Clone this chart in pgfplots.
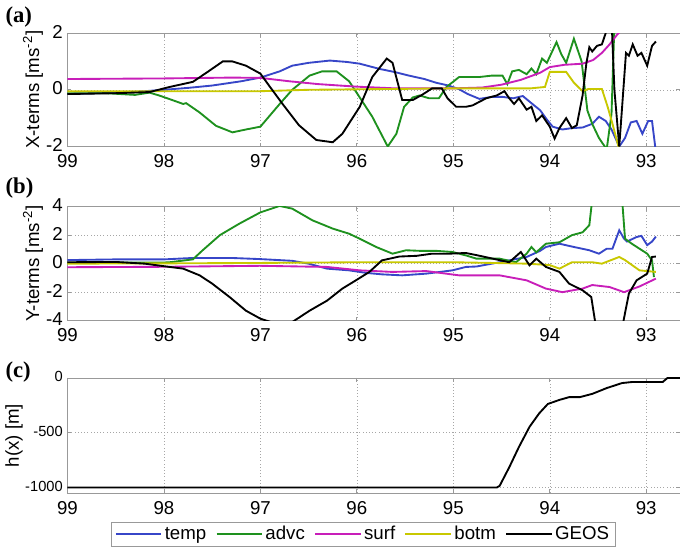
\documentclass[border=0pt]{standalone}
\usepackage{pgfplots}
\pgfplotsset{compat=1.18}
\usepackage{fontspec}
\setmainfont{Liberation Sans}
\newfontfamily\serifb{Liberation Serif}
\definecolor{cblue}{RGB}{55,70,200}
\definecolor{cgreen}{RGB}{30,145,30}
\definecolor{cmag}{RGB}{200,30,185}
\definecolor{cyel}{RGB}{200,200,0}
\pgfplotsset{
  base/.style={
    scale only axis, width=459.4pt, anchor=south west,
    x dir=reverse, xmin=92.65, xmax=99,
    xtick={93,94,95,96,97,98,99},
    axis line style={gray!80},
    tick style={gray!80, line width=0.6pt},
    tick align=inside, major tick length=3pt,
    xmajorgrids, ymajorgrids,
    grid style={dotted, gray!70},
    tick label style={font=\fontsize{14}{16}\selectfont},
    xticklabel style={yshift=-2.5pt},
    yticklabel style={yshift=1pt},
    label style={font=\fontsize{14}{16}\selectfont},
    /pgf/number format/assume math mode=true,
    /pgf/number format/1000 sep={},
    every axis plot/.append style={line width=1.4pt},
    clip=true,
  }
}
\begin{document}
\begin{tikzpicture}
\path[use as bounding box] (0,0) rectangle (510pt,414pt);
\node[anchor=west, inner sep=0pt] at (4pt,401pt) {\serifb\bfseries\fontsize{17}{19}\selectfont (a)};
\node[anchor=west, inner sep=0pt] at (4pt,273pt) {\serifb\bfseries\fontsize{17}{19}\selectfont (b)};
\node[anchor=west, inner sep=0pt] at (4pt,135pt) {\serifb\bfseries\fontsize{17}{19}\selectfont (c)};
% Panel a
\begin{axis}[base, at={(50.6pt,304.1pt)}, height=85.1pt,
  ymin=-2, ymax=2, ytick={-2,0,2},
  ylabel={X-terms [ms\textsuperscript{-2}]},
  ylabel style={at={(rel axis cs:-0.0563,0.5)}, anchor=center, rotate=0}]
\addplot[cblue] coordinates {(99,-0.15)(98.5,-0.1)(98.2,-0.05)(98.0,0.0)(97.74,0.07)(97.5,0.15)(97.2,0.3)(97.0,0.43)(96.8,0.65)(96.67,0.85)(96.5,0.95)(96.28,1.03)(96.1,0.98)(95.97,0.92)(95.77,0.74)(95.6,0.62)(95.46,0.5)(95.3,0.38)(95.18,0.25)(95.05,0.15)(94.94,0.02)(94.85,-0.15)(94.73,-0.32)(94.6,-0.25)(94.49,-0.25)(94.38,-0.3)(94.28,-0.22)(94.18,-0.5)(94.1,-0.72)(94.03,-1.05)(93.97,-1.3)(93.87,-1.4)(93.77,-1.35)(93.66,-1.33)(93.56,-1.2)(93.49,-0.95)(93.42,-1.1)(93.36,-1.4)(93.28,-2.0)(93.22,-1.7)(93.16,-1.15)(93.1,-1.1)(93.04,-1.55)(92.98,-1.1)(92.94,-1.1)(92.9,-2.2)};
\addplot[cgreen] coordinates {(99,-0.12)(98.6,-0.12)(98.3,-0.18)(98.15,-0.1)(98.05,-0.2)(97.94,-0.33)(97.8,-0.5)(97.77,-0.47)(97.63,-0.8)(97.46,-1.27)(97.29,-1.5)(97.15,-1.4)(97.0,-1.3)(96.9,-0.9)(96.8,-0.5)(96.67,0.0)(96.49,0.5)(96.36,0.65)(96.21,0.65)(96.08,0.3)(95.97,-0.27)(95.84,-0.95)(95.68,-2.0)(95.59,-1.55)(95.51,-0.6)(95.42,-0.27)(95.35,-0.2)(95.25,-0.3)(95.15,-0.3)(95.07,0.1)(94.94,0.45)(94.73,0.45)(94.6,0.5)(94.49,0.5)(94.44,0.2)(94.39,0.65)(94.32,0.7)(94.24,0.55)(94.19,0.75)(94.14,0.55)(94.08,1.1)(94.03,0.95)(93.93,1.68)(93.88,1.25)(93.83,0.95)(93.75,1.8)(93.67,1.0)(93.61,-0.73)(93.56,-1.2)(93.49,-1.7)(93.41,-2.1)(93.36,-0.85)(93.33,2.3)(93.3,3)};
\addplot[cmag] coordinates {(99,0.38)(98,0.4)(97.3,0.43)(97.0,0.42)(96.7,0.3)(96.4,0.2)(96.0,0.11)(95.6,0.05)(95.0,0.05)(94.7,0.08)(94.5,0.18)(94.3,0.35)(94.1,0.6)(94.0,0.8)(93.85,0.88)(93.66,0.92)(93.55,1.05)(93.46,1.3)(93.38,1.6)(93.3,1.95)(93.2,2.3)};
\addplot[cyel] coordinates {(99,-0.05)(97,-0.05)(96.5,0.0)(95.0,0.05)(94.2,0.05)(94.05,0.1)(94.0,0.63)(93.83,0.63)(93.75,0.25)(93.66,-0.05)(93.6,0.03)(93.46,0.03)(93.4,-0.6)(93.35,-1.2)(93.28,-2.1)};
\addplot[black] coordinates {(99,-0.15)(98.5,-0.12)(98.15,-0.08)(97.94,0.1)(97.7,0.28)(97.56,0.6)(97.39,1.0)(97.29,1.0)(97.15,0.85)(97.0,0.57)(96.9,0.1)(96.77,-0.5)(96.6,-1.25)(96.42,-1.77)(96.25,-1.85)(96.15,-1.55)(95.97,-0.6)(95.84,0.45)(95.69,1.1)(95.63,0.95)(95.53,-0.36)(95.42,-0.36)(95.32,-0.17)(95.22,0.05)(95.12,0.05)(95.06,-0.3)(94.97,-0.6)(94.87,-0.6)(94.8,-0.55)(94.66,-0.3)(94.55,-0.2)(94.47,-0.05)(94.42,-0.3)(94.37,-0.5)(94.32,-0.3)(94.24,-0.7)(94.19,-0.6)(94.14,-1.1)(94.08,-0.9)(94.0,-1.3)(93.95,-1.72)(93.9,-1.35)(93.83,-1.0)(93.77,-1.35)(93.72,-1.25)(93.66,-0.2)(93.62,0.95)(93.59,1.5)(93.56,1.35)(93.51,1.55)(93.46,1.6)(93.41,2.1)(93.36,2.5)(93.33,0.0)(93.28,-2.0)(93.25,-0.6)(93.21,1.3)(93.18,1.2)(93.14,1.6)(93.09,1.2)(93.05,1.3)(92.99,0.85)(92.94,1.55)(92.9,1.7)};
\end{axis}
% Panel b
\begin{axis}[base, at={(50.6pt,173.5pt)}, height=85.5pt,
  ymin=-4, ymax=4, ytick={-4,-2,0,2,4},
  ylabel={Y-terms [ms\textsuperscript{-2}]},
  ylabel style={at={(rel axis cs:-0.0563,0.5)}, anchor=center, rotate=0}]
\addplot[cblue] coordinates {(99,0.25)(98.5,0.3)(98.0,0.3)(97.7,0.4)(97.3,0.4)(97.0,0.32)(96.67,0.2)(96.5,0.0)(96.31,-0.35)(96.08,-0.47)(95.9,-0.65)(95.74,-0.75)(95.53,-0.82)(95.28,-0.7)(95.01,-0.47)(94.87,-0.23)(94.76,-0.2)(94.52,0.1)(94.24,0.47)(94.1,0.9)(94.04,1.17)(93.9,1.4)(93.77,1.2)(93.59,0.94)(93.49,0.7)(93.41,1.05)(93.35,1.05)(93.28,2.34)(93.23,1.75)(93.2,1.55)(93.1,1.87)(93.05,1.95)(92.99,1.3)(92.94,1.55)(92.9,1.9)};
\addplot[cgreen] coordinates {(99,0.05)(98.5,0.08)(98.0,0.08)(97.94,0.1)(97.7,0.3)(97.6,0.93)(97.42,2.0)(97.22,2.8)(97.0,3.6)(96.8,4.05)(96.67,3.86)(96.46,3.04)(96.25,2.46)(96.08,2.1)(95.97,1.75)(95.8,1.17)(95.63,0.7)(95.49,0.94)(95.35,0.9)(95.18,0.9)(95.01,0.82)(94.87,0.58)(94.76,0.35)(94.52,0.35)(94.35,0.1)(94.24,0.7)(94.19,1.17)(94.14,0.8)(94.04,1.4)(93.9,1.5)(93.77,2.0)(93.66,2.2)(93.59,2.7)(93.56,4.5)(93.5,6)(93.3,6)(93.25,4.5)(93.22,1.75)(93.15,1.4)(92.99,0.7)(92.94,0.23)(92.92,-0.94)};
\addplot[cmag] coordinates {(99,-0.25)(98,-0.22)(97,-0.15)(96.31,-0.23)(95.97,-0.47)(95.63,-0.58)(95.28,-0.52)(94.94,-0.82)(94.52,-0.82)(94.24,-1.17)(94.04,-1.75)(93.87,-2.0)(93.66,-1.75)(93.56,-1.5)(93.38,-1.64)(93.23,-2.0)(93.07,-1.6)(92.9,-1.05)};
\addplot[cyel] coordinates {(99,0.0)(98,0.02)(97,0.05)(96,0.1)(95,0.1)(94.6,0.05)(94.24,0.0)(94.0,-0.1)(93.9,-0.35)(93.77,0.1)(93.56,0.1)(93.46,0.0)(93.28,0.47)(93.22,0.25)(93.07,-0.47)(92.9,-0.58)};
\addplot[black] coordinates {(99,0.1)(98.5,0.12)(98.2,0.0)(97.94,-0.23)(97.8,-0.35)(97.63,-0.82)(97.5,-1.4)(97.32,-2.34)(97.15,-3.3)(97.0,-3.86)(96.8,-4.3)(96.67,-4.1)(96.49,-3.3)(96.31,-2.6)(96.15,-1.75)(96.01,-1.17)(95.87,-0.58)(95.74,0.23)(95.56,0.5)(95.38,0.55)(95.22,0.7)(95.04,0.7)(94.87,0.75)(94.76,0.6)(94.59,0.35)(94.42,0.1)(94.3,0.82)(94.21,-0.12)(94.14,0.35)(94.04,-0.23)(93.9,-0.58)(93.8,-1.4)(93.66,-1.87)(93.57,-2.34)(93.52,-4.5)(93.45,-8)(93.3,-8)(93.25,-4.5)(93.18,-2.1)(93.1,-1.17)(92.99,-0.7)(92.94,0.47)(92.9,0.5)};
\end{axis}
% Panel c
\begin{axis}[base, at={(50.6pt,44.25pt)}, height=86.25pt,
  ymin=-1050, ymax=0, ytick={-1000,-500,0},
  yticklabel style={font=\fontsize{11}{13}\selectfont},
  ylabel={h(x) [m]},
  ylabel style={at={(rel axis cs:-0.087,0.5)}, anchor=center, rotate=0},
  legend columns=5,
  legend style={at={(0.483,-0.357)}, anchor=center, draw=gray!80,
    font=\fontsize{14}{16}\selectfont, inner ysep=1pt,
    /tikz/every even column/.append style={column sep=5pt}},
  legend image post style={line width=1.4pt},
  legend image code/.code={\draw[#1] (0pt,0pt) -- (34pt,0pt);}]
\addlegendimage{cblue}\addlegendentry{temp}
\addlegendimage{cgreen}\addlegendentry{advc}
\addlegendimage{cmag}\addlegendentry{surf}
\addlegendimage{cyel}\addlegendentry{botm}
\addplot[black] coordinates {(99,-1000)(94.55,-1000)(94.52,-985)(94.42,-815)(94.32,-630)(94.21,-446)(94.11,-323)(94.02,-237)(93.9,-200)(93.8,-175)(93.69,-175)(93.56,-145)(93.41,-92)(93.25,-46)(93.15,-37)(92.83,-37)(92.78,0)(92.65,0)};
\addlegendentry{GEOS}
\end{axis}
\end{tikzpicture}
\end{document}
